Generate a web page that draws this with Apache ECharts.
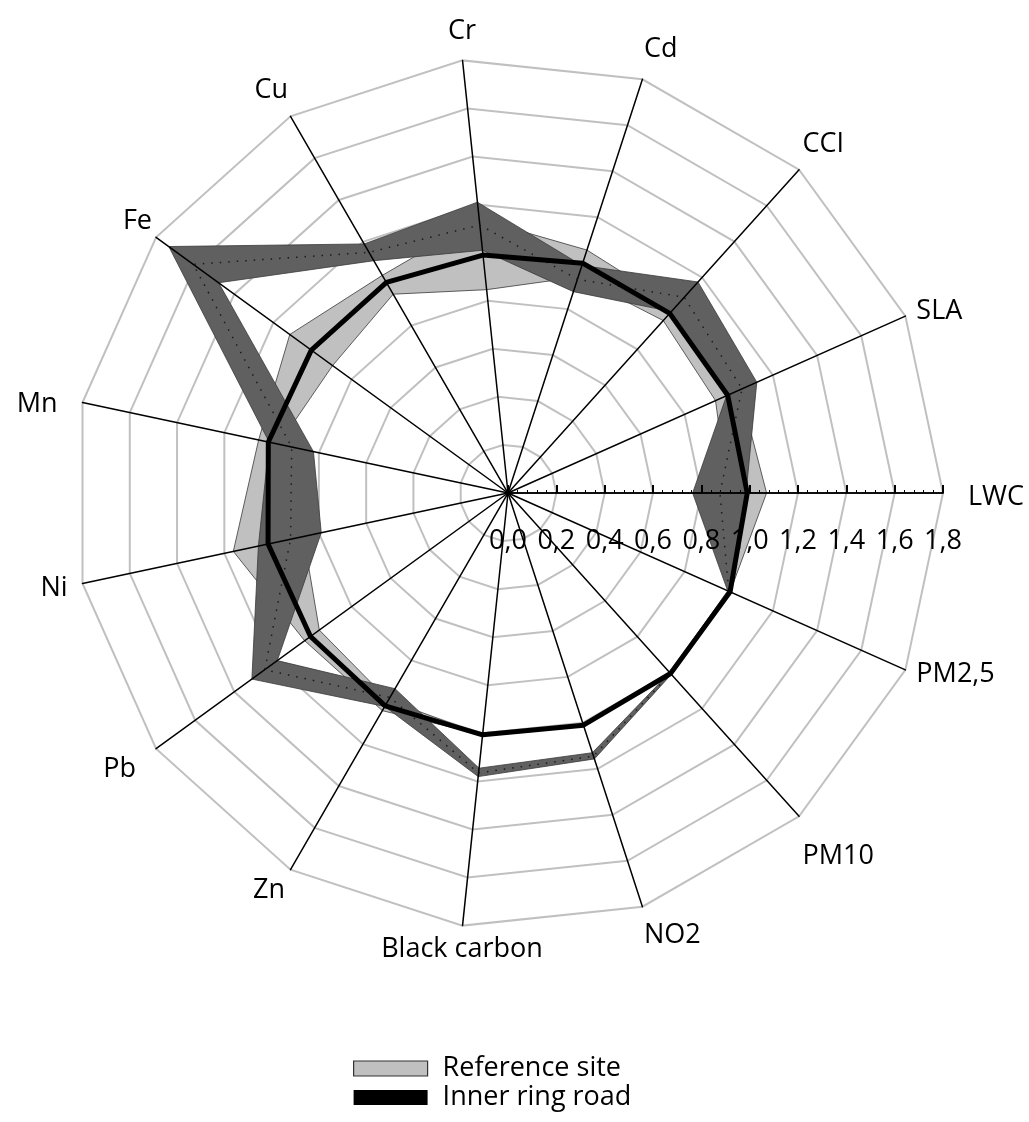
<!DOCTYPE html>
<html><head><meta charset="utf-8">
<script src="https://cdn.jsdelivr.net/npm/echarts@6/dist/echarts.min.js"></script>
<style>html,body{margin:0;padding:0;background:#fff}#c{width:1029px;height:1122px}</style>
</head><body><div id="c"></div>
<script>
// Axes (counter-clockwise from the right)
const categories = ['LWC','SLA','CCI','Cd','Cr','Cu','Fe','Mn','Ni','Pb','Zn','Black carbon','NO2','PM10','PM2,5'];
// Thick black line and light-grey band
const blackLine = [0.99, 0.995, 1.00, 1.00, 0.99, 1.006, 1.006, 1.014, 1.015, 1.01, 1.017, 1.006, 1.01, 1.005, 1.006];
const lightLow  = [0.91, 0.94, 0.96, 0.94, 0.846, 0.95, 0.897, 0.97, 0.865, 0.965, 0.99, 1.006, 1.01, 1.005, 1.006];
const lightHigh = [1.07, 1.05, 1.04, 1.057, 1.14, 1.04, 1.116, 1.055, 1.162, 1.04, 1.04, 1.006, 1.01, 1.005, 1.006];
// Dotted line and dark-grey band
const dottedLine = [0.877, 1.06, 1.09, 0.93, 1.115, 1.15, 1.61, 0.915, 0.92, 1.244, 0.977, 1.165, 1.145, 1.005, 1.0];
const darkLow    = [0.764, 0.99, 1.01, 0.876, 1.01, 1.11, 1.48, 0.823, 0.79, 1.18, 0.935, 1.145, 1.13, 1.0, 0.995];
const darkHigh   = [0.985, 1.127, 1.175, 0.99, 1.21, 1.19, 1.735, 1.01, 1.056, 1.31, 1.02, 1.18, 1.157, 1.01, 1.005];
// Scale
const axisMin = 0, axisMax = 1.8, axisStep = 0.2;
const legendNames = ['Reference site', 'Inner ring road'];

const CX = 508, CY = 493, R = 435;
const FONT = "'Open Sans', sans-serif";
const FS = 27;

// label styling (text offsets only) : [top, right, bottom, left] padding per axis label
const labelPad = {
  0: [8, 0, 0, 20], 2: [0, 0, 8, 0], 3: [0, 0, 12, 0], 4: [0, 0, 11, 0], 5: [0, 0, 8, 0], 6: [0, 0, 0, 0],
  7: [6, 20, 0, 0], 8: [8, 10, 0, 0], 9: [4, 16, 0, 0], 10: [3, 3, 0, 0], 11: [5, 0, 0, 0], 12: [10, 0, 0, 0], 13: [23, 0, 0, 0]
};
const radarNamed = { 1: true, 14: true };
const rich = {};
Object.keys(labelPad).forEach(function (k) {
  rich['p' + k] = { fontSize: FS, fontFamily: FONT, color: '#000', padding: labelPad[k] };
});

function bandSeries(name, low, high, fill, z) {
  return {
    type: 'custom', name: name, coordinateSystem: 'polar', polarIndex: 0, z: z, silent: true,
    data: [[0, 0]],
    renderItem: function (params, api) {
      const n = categories.length;
      const outer = [], inner = [];
      for (let i = 0; i < n; i++) {
        outer.push(api.coord([high[i], i]));
        inner.push(api.coord([low[i], i]));
      }
      const ring = outer.concat([outer[0], inner[0]]).concat(inner.slice(1).reverse()).concat([inner[0]]);
      return { type: 'group', children: [
        { type: 'polygon', shape: { points: ring }, style: { fill: fill, stroke: 'none' } },
        { type: 'polygon', shape: { points: outer }, style: { fill: 'none', stroke: '#3a3a3a', lineWidth: 0.8 } },
        { type: 'polygon', shape: { points: inner }, style: { fill: 'none', stroke: '#3a3a3a', lineWidth: 0.8 } }
      ]};
    }
  };
}

const indicator = categories.map(function (n) { return { name: n, min: axisMin, max: axisMax }; });
const chart = echarts.init(document.getElementById('c'), null, { renderer: 'canvas' });
chart.setOption({
  animation: false,
  backgroundColor: '#fff',
  radar: [
    { center: [CX, CY], radius: R, startAngle: 0, splitNumber: 9, shape: 'polygon', indicator: indicator,
      axisName: { show: false }, axisLine: { show: false }, axisTick: { show: false }, axisLabel: { show: false },
      splitLine: { lineStyle: { color: '#c0c0c0', width: 2 } }, splitArea: { show: false }, z: 0 },
    { center: [CX, CY], radius: R, startAngle: 0, splitNumber: 9, shape: 'polygon', indicator: indicator,
      nameGap: 12,
      axisName: { show: true, color: '#000', fontSize: FS, fontFamily: FONT,
        formatter: function (name) { return radarNamed[categories.indexOf(name)] ? name : ''; } },
      axisLine: { lineStyle: { color: '#000', width: 1.5 } }, axisTick: { show: false }, axisLabel: { show: false },
      splitLine: { show: false }, splitArea: { show: false }, z: 5 }
  ],
  polar: { center: [CX, CY], radius: R },
  angleAxis: {
    type: 'value', min: 0, max: categories.length, interval: 1, startAngle: 0, clockwise: false,
    axisLine: { show: false }, axisTick: { show: false }, splitLine: { show: false },
    axisLabel: {
      formatter: function (v) { return (categories[v] && !radarNamed[v]) ? '{p' + v + '|' + categories[v] + '}' : ''; },
      rich: rich, fontSize: FS, color: '#000', fontFamily: FONT, margin: 5
    }
  },
  radiusAxis: {
    type: 'value', min: axisMin, max: axisMax, interval: axisStep, z: 10,
    axisLine: { show: true, lineStyle: { color: '#000', width: 1.5 } },
    axisTick: { show: true, inside: true, length: 8, lineStyle: { color: '#000', width: 2 } },
    minorTick: { show: true, splitNumber: 5, length: 3, lineStyle: { color: '#000', width: 1 } },
    splitLine: { show: false },
    axisLabel: { formatter: function (v) { return v.toFixed(1).replace('.', ','); }, fontSize: FS, color: '#000', fontFamily: FONT, margin: -62 }
  },
  legend: {
    left: 348, top: 1050, orient: 'vertical', itemWidth: 74, itemHeight: 15, itemGap: 2, selectedMode: false, icon: 'rect',
    textStyle: { fontSize: FS, color: '#000', fontFamily: FONT, lineHeight: 26, padding: [0, 0, 0, 10] },
    data: [
      { name: legendNames[0], itemStyle: { color: '#c0c0c0', borderColor: '#333', borderWidth: 1.2 } },
      { name: legendNames[1], itemStyle: { color: '#000' } }
    ]
  },
  series: [
    bandSeries(legendNames[0], lightLow, lightHigh, '#c0c0c0', 3),
    bandSeries('Dark band', darkLow, darkHigh, '#606060', 4),
    { type: 'radar', radarIndex: 1, name: 'Dotted', z: 11, symbol: 'none', silent: true,
      data: [{ name: 'Dotted', value: dottedLine }],
      lineStyle: { color: '#1a1a1a', width: 1.5, type: [1.5, 7] }, itemStyle: { color: '#1a1a1a' } },
    { type: 'radar', radarIndex: 1, name: legendNames[1], z: 12, symbol: 'none', silent: true,
      data: [{ name: legendNames[1], value: blackLine }],
      lineStyle: { color: '#000', width: 5 }, itemStyle: { color: '#000' } }
  ]
});
</script></body></html>
